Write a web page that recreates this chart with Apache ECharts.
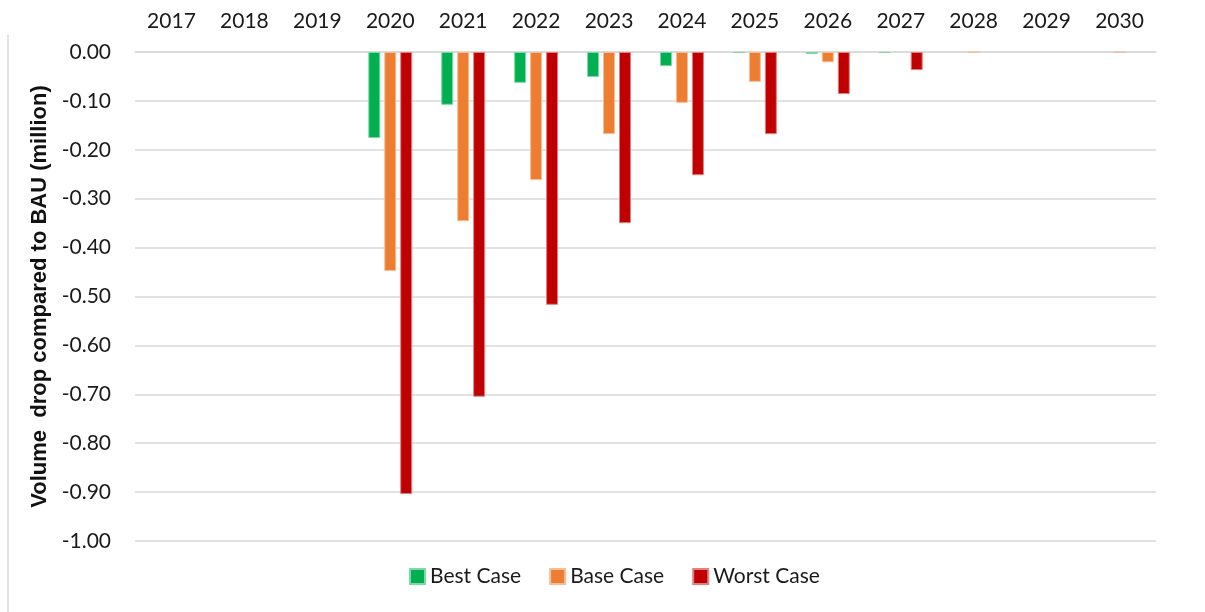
<!DOCTYPE html>
<html>
<head>
<meta charset="utf-8">
<script src="https://cdn.jsdelivr.net/npm/echarts@6/dist/echarts.min.js"></script>
<style>
    html, body { margin: 0; padding: 0; background: #fff; }
    #chart { width: 1205px; height: 612px; }
</style>
</head>
<body>
<div id="chart"></div>
<script>
    // years on the top axis
    var years = ['2017', '2018', '2019', '2020', '2021', '2022', '2023', '2024', '2025', '2026', '2027', '2028', '2029', '2030'];
    // volume drop vs BAU, million (null = no bar drawn)
    var bestCase = [null, null, null, -0.176, -0.108, -0.063, -0.051, -0.029, -0.002, -0.004, -0.002, null, null, null];
    var baseCase = [null, null, null, -0.448, -0.346, -0.262, -0.168, -0.104, -0.061, -0.021, null, -0.001, null, -0.001];
    var worstCase = [null, null, null, -0.904, -0.705, -0.517, -0.350, -0.252, -0.168, -0.086, -0.037, null, null, null];

    var font = 'Lato, "Open Sans", sans-serif';

    var chart = echarts.init(document.getElementById('chart'));

    function bar(name, data, color, edge) {
        return {
            name: name,
            type: 'bar',
            data: data,
            barWidth: 12,
            barGap: '33%',
            itemStyle: { color: color, borderColor: edge, borderWidth: 1 }
        };
    }

    chart.setOption({
        animation: false,
        textStyle: { fontFamily: font },
        grid: { left: 135, right: 49, top: 52, bottom: 71 },
        graphic: [{
            type: 'line',
            shape: { x1: 8, y1: 35, x2: 8, y2: 612 },
            style: { stroke: '#d9d9d9', lineWidth: 1.5 }
        }],
        legend: {
            bottom: 20,
            left: 404,
            itemWidth: 15,
            itemHeight: 15,
            itemGap: 28,
            icon: 'rect',
            textStyle: { fontSize: 21, color: '#1a1a1a', fontFamily: font },
            data: ['Best Case', 'Base Case', 'Worst Case']
        },
        xAxis: {
            type: 'category',
            position: 'top',
            data: years,
            axisLine: { lineStyle: { color: '#d9d9d9', width: 1.5 } },
            axisTick: { inside: true, length: 7, lineStyle: { color: '#d9d9d9', width: 1.5 } },
            axisLabel: { fontSize: 21, color: '#1a1a1a', margin: 20 }
        },
        yAxis: {
            type: 'value',
            min: -1,
            max: 0,
            interval: 0.1,
            name: 'Volume  drop compared to BAU (million)',
            nameLocation: 'middle',
            nameGap: 84,
            nameRotate: 90,
            nameTextStyle: { fontSize: 22, fontWeight: 'bold', color: '#111', fontFamily: '"Liberation Sans", sans-serif' },
            axisLine: { show: false },
            axisTick: { show: false },
            axisLabel: {
                fontSize: 21,
                color: '#1a1a1a',
                margin: 24,
                formatter: function (v) { return v.toFixed(2); }
            },
            splitLine: { lineStyle: { color: '#d9d9d9', width: 1.5 } }
        },
        series: [
            bar('Best Case', bestCase, '#00b050', '#7fd8a7'),
            bar('Base Case', baseCase, '#ed7d31', '#f6be98'),
            bar('Worst Case', worstCase, '#c00000', '#e08080')
        ]
    });
</script>
</body>
</html>
